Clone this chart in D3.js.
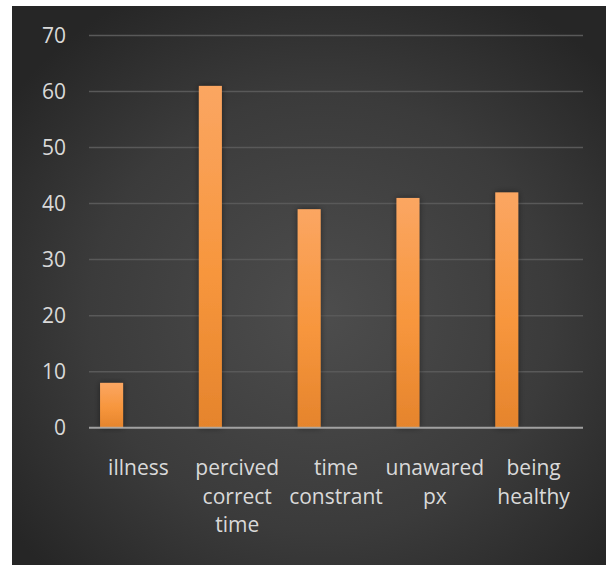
<!DOCTYPE html>
<html>
<head>
<meta charset="utf-8">
<script src="https://cdn.jsdelivr.net/npm/d3@7"></script>
<style>
  html, body { margin: 0; padding: 0; background: #ffffff; }
  svg { display: block; }
</style>
</head>
<body>
<svg id="chart" width="606" height="565"></svg>
<script>
// Category labels, one entry per line of the wrapped label
const categories = ["illness", "percived correct time", "time constrant", "unawared px", "being healthy"];
const labelLines = [["illness"], ["percived", "correct", "time"], ["time", "constrant"], ["unawared", "px"], ["being", "healthy"]];
const values = [8, 61, 39, 41, 42];
const yTicks = [0, 10, 20, 30, 40, 50, 60, 70];

const svg = d3.select("#chart");
const W = 606, H = 565;
const panel = { x: 12, y: 6, w: W - 12, h: H - 6 };
const plot = { left: 89, right: 583, top: 35.5, bottom: 427.7 };
const fontFamily = "'Open Sans', sans-serif";

const defs = svg.append("defs");

// dark background with a soft light spot toward the middle
const bg = defs.append("radialGradient").attr("id", "bgGrad")
  .attr("cx", "52%").attr("cy", "55%").attr("r", "65%");
bg.append("stop").attr("offset", "0%").attr("stop-color", "#4d4d4d");
bg.append("stop").attr("offset", "60%").attr("stop-color", "#3b3b3b");
bg.append("stop").attr("offset", "100%").attr("stop-color", "#262626");

const barGrad = defs.append("linearGradient").attr("id", "barGrad")
  .attr("x1", 0).attr("y1", 0).attr("x2", 0).attr("y2", 1);
barGrad.append("stop").attr("offset", "0%").attr("stop-color", "#fba662");
barGrad.append("stop").attr("offset", "55%").attr("stop-color", "#f7963d");
barGrad.append("stop").attr("offset", "100%").attr("stop-color", "#e5842c");

const shadow = defs.append("filter").attr("id", "barShadow")
  .attr("x", "-50%").attr("y", "-10%").attr("width", "200%").attr("height", "120%");
shadow.append("feDropShadow").attr("dx", 0).attr("dy", 0)
  .attr("stdDeviation", 3).attr("flood-color", "#000").attr("flood-opacity", 0.45);

svg.append("rect")
  .attr("x", panel.x).attr("y", panel.y)
  .attr("width", panel.w).attr("height", panel.h)
  .attr("fill", "url(#bgGrad)");

const x = d3.scaleBand().domain(categories).range([plot.left, plot.right]).padding(0);
const y = d3.scaleLinear().domain([0, 70]).range([plot.bottom, plot.top]);

// horizontal gridlines
svg.append("g")
  .selectAll("line")
  .data(yTicks.filter(d => d > 0))
  .join("line")
  .attr("x1", plot.left).attr("x2", plot.right)
  .attr("y1", d => y(d)).attr("y2", d => y(d))
  .attr("stroke", "#595959").attr("stroke-width", 1.5);

// y-axis tick labels
const yAxis = svg.append("g")
  .attr("transform", `translate(${plot.left - 23},0)`)
  .call(d3.axisLeft(y).tickValues(yTicks).tickSize(0).tickPadding(0));
yAxis.select(".domain").remove();
yAxis.selectAll("text")
  .attr("fill", "#d9d9d9")
  .attr("font-family", fontFamily)
  .attr("font-size", 21);

// bars
const bw = x.bandwidth();
svg.append("g")
  .selectAll("rect")
  .data(categories.map((c, i) => ({ c, v: values[i] })))
  .join("rect")
  .attr("x", d => x(d.c) + bw * 0.112)
  .attr("width", bw * 0.233)
  .attr("y", d => y(d.v))
  .attr("height", d => y(0) - y(d.v))
  .attr("fill", "url(#barGrad)")
  .attr("filter", "url(#barShadow)");

// baseline
svg.append("line")
  .attr("x1", plot.left).attr("x2", plot.right)
  .attr("y1", y(0)).attr("y2", y(0))
  .attr("stroke", "#b3b3b3").attr("stroke-opacity", 0.85).attr("stroke-width", 2);

// wrapped category labels
const labels = svg.append("g")
  .selectAll("text")
  .data(categories.map((c, i) => ({ c, lines: labelLines[i] })))
  .join("text")
  .attr("text-anchor", "middle")
  .attr("fill", "#d9d9d9")
  .attr("font-family", fontFamily)
  .attr("font-size", 21)
  .attr("transform", d => `translate(${x(d.c) + bw / 2},475)`);
labels.selectAll("tspan")
  .data(d => d.lines)
  .join("tspan")
  .attr("x", 0)
  .attr("y", (d, i) => i * 28.5)
  .text(d => d);
</script>
</body>
</html>
